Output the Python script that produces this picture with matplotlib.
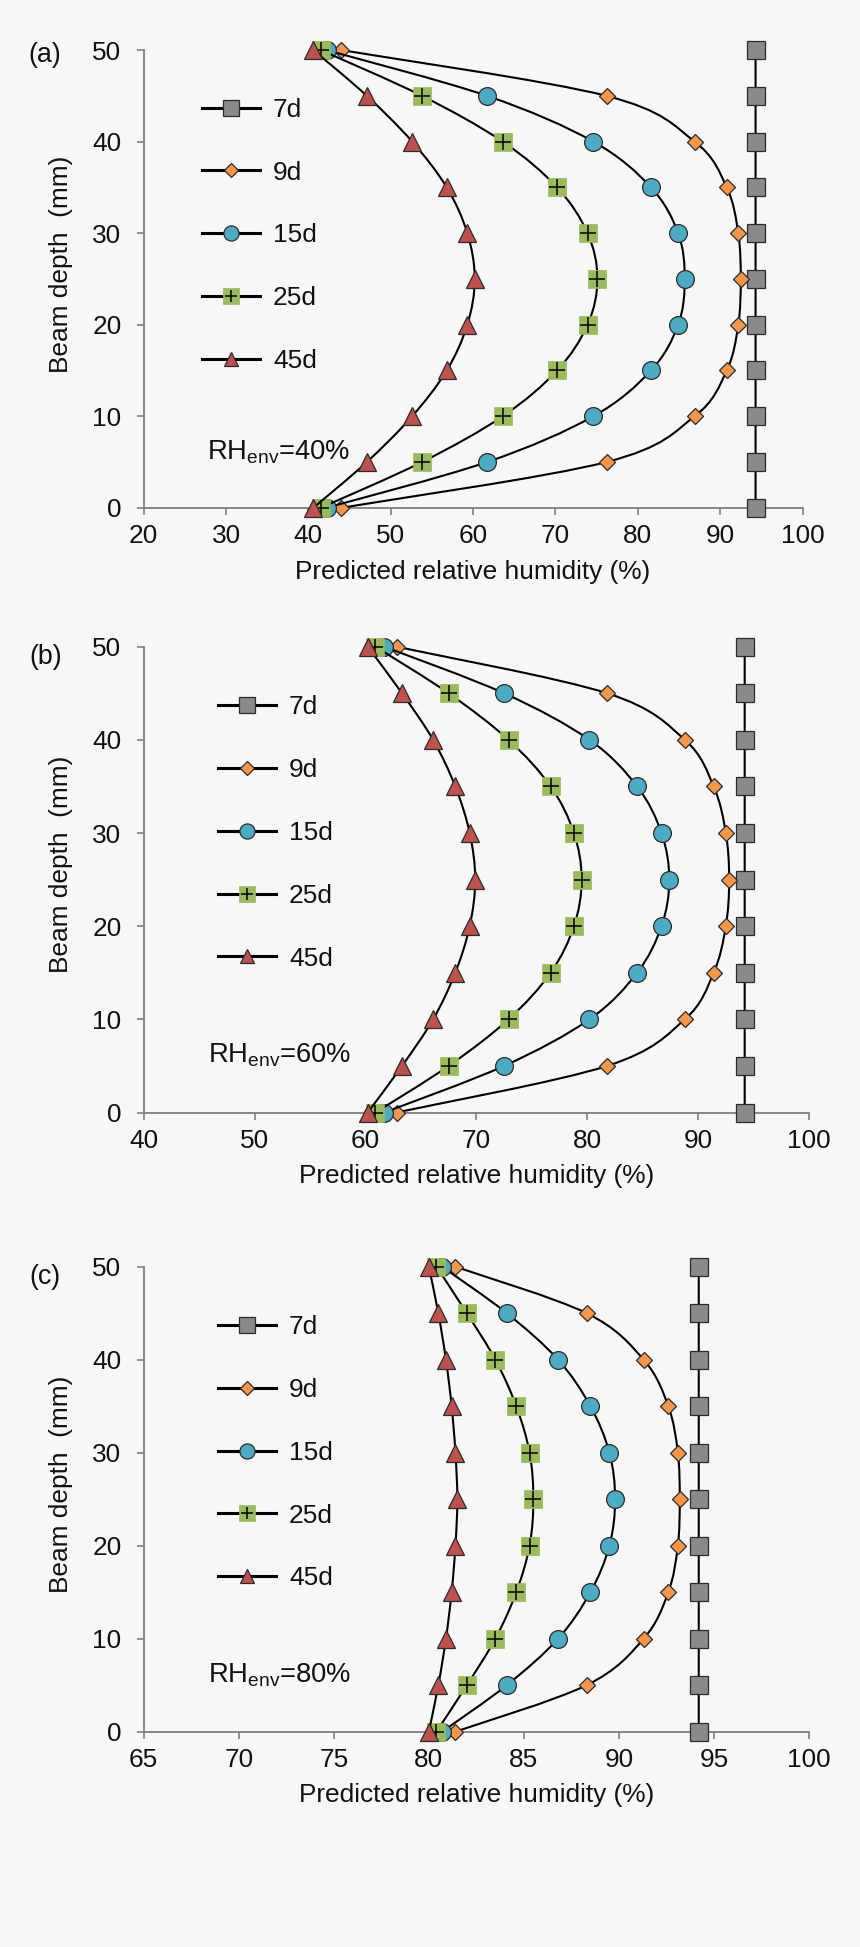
import numpy as np
import matplotlib
matplotlib.use("Agg")
import matplotlib.pyplot as plt
from matplotlib.path import Path
from matplotlib.patches import PathPatch
from matplotlib.lines import Line2D
from matplotlib.legend_handler import HandlerTuple

plt.rcParams['font.family'] = ['Liberation Sans', 'DejaVu Sans']
plt.rcParams['mathtext.fontset'] = 'custom'
plt.rcParams['mathtext.rm'] = 'Liberation Sans'
plt.rcParams['mathtext.it'] = 'Liberation Sans'

# beam depth (mm), same for every curve
depth = [0, 5, 10, 15, 20, 25, 30, 35, 40, 45, 50]
ages = ['7d', '9d', '15d', '25d', '45d']

# predicted RH (%), from depth 0 up to 50
rh40_7d = [94.3] * 11
rh40_9d = [44.0, 76.2, 86.9, 90.8, 92.2, 92.5, 92.2, 90.8, 86.9, 76.2, 44.0]
rh40_15d = [42.2, 61.7, 74.6, 81.6, 84.9, 85.7, 84.9, 81.6, 74.6, 61.7, 42.2]
rh40_25d = [41.5, 53.8, 63.6, 70.2, 73.9, 75.1, 73.9, 70.2, 63.6, 53.8, 41.5]
rh40_45d = [40.6, 47.1, 52.6, 56.8, 59.3, 60.2, 59.3, 56.8, 52.6, 47.1, 40.6]

rh60_7d = [94.2] * 11
rh60_9d = [62.8, 81.8, 88.8, 91.4, 92.5, 92.8, 92.5, 91.4, 88.8, 81.8, 62.8]
rh60_15d = [61.7, 72.5, 80.2, 84.5, 86.7, 87.4, 86.7, 84.5, 80.2, 72.5, 61.7]
rh60_25d = [60.9, 67.5, 72.9, 76.7, 78.8, 79.5, 78.8, 76.7, 72.9, 67.5, 60.9]
rh60_45d = [60.2, 63.3, 66.1, 68.1, 69.4, 69.9, 69.4, 68.1, 66.1, 63.3, 60.2]

rh80_7d = [94.2] * 11
rh80_9d = [81.4, 88.3, 91.3, 92.6, 93.1, 93.2, 93.1, 92.6, 91.3, 88.3, 81.4]
rh80_15d = [80.7, 84.1, 86.8, 88.5, 89.5, 89.8, 89.5, 88.5, 86.8, 84.1, 80.7]
rh80_25d = [80.4, 82.0, 83.5, 84.6, 85.3, 85.5, 85.3, 84.6, 83.5, 82.0, 80.4]
rh80_45d = [80.0, 80.5, 80.9, 81.2, 81.4, 81.5, 81.4, 81.2, 80.9, 80.5, 80.0]

panels = [
    ('(a)', '40%', [rh40_7d, rh40_9d, rh40_15d, rh40_25d, rh40_45d], np.arange(20, 101, 10)),
    ('(b)', '60%', [rh60_7d, rh60_9d, rh60_15d, rh60_25d, rh60_45d], np.arange(40, 101, 10)),
    ('(c)', '80%', [rh80_7d, rh80_9d, rh80_15d, rh80_25d, rh80_45d], np.arange(65, 101, 5)),
]

bg = '#f7f7f7'
fs = 18.9
edge = '#2b2b2b'
styles = [
    dict(marker='s', ms=13, mfc='#8a8a8a', mec=edge, mew=0.9),
    dict(marker='D', ms=8.6, mfc='#f79646', mec=edge, mew=0.9),
    dict(marker='o', ms=12.8, mfc='#4bacc6', mec=edge, mew=0.9),
    dict(marker='s', ms=13, mfc='#9bbb59', mec='#9bbb59', mew=0.5),
    dict(marker='^', ms=12.5, mfc='#c0504d', mec=edge, mew=0.9),
]

# axes rectangles in pixels: left, top, right, bottom
rects = [(143.7, 50.1, 802.5, 507.8), (143.7, 646.7, 809, 1112.5), (143.7, 1266.7, 809, 1731.7)]
leg_x = [0.0885, 0.112, 0.112]
lab_pos = [(28, 55), (29, 657), (29, 1277)]

W, H = 860, 1947


def smooth_path(x, y):
    # excel-like smoothed line: bezier through the points
    p = np.column_stack([x, y]).astype(float)
    n = len(p)
    verts = [p[0]]
    codes = [Path.MOVETO]
    for i in range(n - 1):
        p0 = p[i - 1] if i > 0 else p[i]
        p3 = p[i + 2] if i + 2 < n else p[i + 1]
        c1 = p[i] + (p[i + 1] - p0) / 6.0
        c2 = p[i + 1] - (p3 - p[i]) / 6.0
        verts += [c1, c2, p[i + 1]]
        codes += [Path.CURVE4] * 3
    return Path(verts, codes)


fig = plt.figure(figsize=(W / 100, H / 100), dpi=100, facecolor=bg)

for k, (lab, env, series, xt) in enumerate(panels):
    l, t, r, b = rects[k]
    ax = fig.add_axes([l / W, 1 - b / H, (r - l) / W, (b - t) / H])
    ax.set_facecolor(bg)
    handles = []
    for j, vals in enumerate(series):
        z = 3 + j * 2
        ax.add_patch(PathPatch(smooth_path(vals, depth), fill=False, ec='black', lw=1.5,
                               zorder=z, clip_on=False))
        st = styles[j]
        ax.plot(vals, depth, ls='none', zorder=z + 1, clip_on=False, **st)
        if j == 3:
            ax.plot(vals, depth, ls='none', marker='+', ms=11, mec='black', mew=1.1,
                    zorder=z + 1.5, clip_on=False)
            h = (Line2D([], [], color='black', lw=2.2),
                 Line2D([], [], ls='none', **st),
                 Line2D([], [], ls='none', marker='+', ms=11, mec='black', mew=1.1))
        else:
            h = (Line2D([], [], color='black', lw=2.2),
                 Line2D([], [], ls='none', **st))
        handles.append(h)

    ax.set_xlim(xt[0], xt[-1])
    ax.set_ylim(0, 50)
    ax.set_xticks(xt)
    ax.set_yticks(np.arange(0, 51, 10))
    for s in ['top', 'right']:
        ax.spines[s].set_visible(False)
    for s in ['left', 'bottom']:
        ax.spines[s].set_color('#7f7f7f')
        ax.spines[s].set_linewidth(1.3)
    ax.tick_params(axis='both', direction='out', length=5, width=1.2, color='#7f7f7f',
                   labelsize=fs, labelcolor='#111111')
    ax.tick_params(axis='x', pad=7)
    ax.tick_params(axis='y', pad=11)
    ax.set_xlabel('Predicted relative humidity (%)', fontsize=fs, color='#111111', labelpad=8)
    ax.set_ylabel('Beam depth  (mm)', fontsize=fs, color='#111111')
    ax.yaxis.set_label_coords(-0.107, 0.533)

    leg = ax.legend(handles, ages, handler_map={tuple: HandlerTuple(ndivide=1)},
                    loc='upper left', bbox_to_anchor=(leg_x[k], 0.896),
                    frameon=False, fontsize=fs, numpoints=1, markerscale=0.85,
                    handlelength=2.2, handletextpad=0.5, labelspacing=1.48,
                    borderpad=0, borderaxespad=0)
    for txt in leg.get_texts():
        txt.set_color('#111111')

    ax.text(0.096, 0.122, r'$\mathrm{RH_{env}}$=' + env, transform=ax.transAxes,
            fontsize=fs + 0.8, va='center', ha='left', color='#111111')
    fig.text(lab_pos[k][0] / W, 1 - lab_pos[k][1] / H, lab, fontsize=fs + 0.5,
             va='center', ha='left', color='#111111')

fig.savefig('out.png', dpi=100, facecolor=bg)
